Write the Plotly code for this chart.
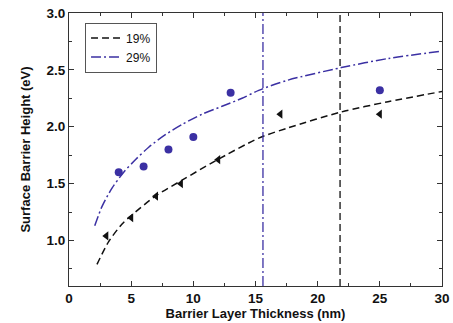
import plotly.graph_objects as go

# Measured data
x_29 = [4, 6, 8, 10, 13, 25]
y_29 = [1.60, 1.65, 1.80, 1.91, 2.30, 2.32]
x_19 = [3, 5, 7, 9, 12, 17, 25]
y_19 = [1.04, 1.20, 1.39, 1.50, 1.71, 2.11, 2.11]

# Fitted curves
fit_x_29 = [2.07, 2.66, 3.46, 4.40, 5.34, 6.41, 7.75, 9.09, 10.70, 12.31, 13.92, 15.26, 17.62, 21.91, 25.66, 30.0]
fit_y_29 = [1.13, 1.30, 1.46, 1.60, 1.71, 1.82, 1.93, 2.02, 2.11, 2.18, 2.25, 2.32, 2.41, 2.52, 2.60, 2.665]
fit_x_19 = [2.25, 3.19, 4.27, 5.02, 6.95, 9.09, 11.78, 15.26, 17.62, 21.91, 25.66, 30.0]
fit_y_19 = [0.79, 0.99, 1.145, 1.22, 1.39, 1.53, 1.70, 1.90, 1.99, 2.13, 2.22, 2.31]

# Critical thickness markers
vline_29 = 15.6
vline_19 = 21.8

labels = ["19%", "29%"]
x_range = [0, 30]
y_range = [0.6, 3.0]

BLUE = "#3b30a3"
BLACK = "#111111"
FONT = "Arial, Liberation Sans, sans-serif"

fig = go.Figure()

fig.add_trace(go.Scatter(x=fit_x_19, y=fit_y_19, mode="lines", name=labels[0],
                         line=dict(color=BLACK, width=1.5, dash="7px,4px", smoothing=0.8),
                         line_shape="spline"))
fig.add_trace(go.Scatter(x=fit_x_29, y=fit_y_29, mode="lines", name=labels[1],
                         line=dict(color=BLUE, width=1.5, dash="10px,3px,2px,3px", smoothing=0.8),
                         line_shape="spline"))
fig.add_trace(go.Scatter(x=x_19, y=y_19, mode="markers", showlegend=False,
                         marker=dict(symbol="triangle-left", size=8, color=BLACK)))
fig.add_trace(go.Scatter(x=x_29, y=y_29, mode="markers", showlegend=False,
                         marker=dict(symbol="circle", size=8, color=BLUE)))

fig.add_trace(go.Scatter(x=[vline_29, vline_29], y=y_range, mode="lines", showlegend=False,
                         line=dict(color=BLUE, width=1.3, dash="10px,3px,2px,3px")))
fig.add_trace(go.Scatter(x=[vline_19, vline_19], y=y_range, mode="lines", showlegend=False,
                         line=dict(color=BLACK, width=1.3, dash="7px,4px")))

axis_common = dict(showline=True, linecolor="#333333", linewidth=1, mirror="ticks",
                   ticks="inside", ticklen=5, tickcolor="#333333", showgrid=False,
                   zeroline=False, automargin=False,
                   tickfont=dict(family=FONT, size=13.5, color="#111111"))

fig.update_xaxes(range=x_range, dtick=5, tick0=0,
                 minor=dict(ticks="inside", dtick=2.5, ticklen=3, tickcolor="#333333"),
                 title=dict(text="<b>Barrier Layer Thickness (nm)</b>",
                            font=dict(family=FONT, size=13, color="#111111"), standoff=0),
                 tickprefix="<b>", ticksuffix="</b>", **axis_common)
fig.update_yaxes(range=y_range, dtick=0.5, tick0=0, tickformat=".1f",
                 minor=dict(ticks="inside", dtick=0.25, ticklen=3, tickcolor="#333333"),
                 title=dict(text="<b>Surface Barrier Height (eV)</b>",
                            font=dict(family=FONT, size=13, color="#111111"), standoff=12),
                 tickprefix="<b>", ticksuffix="</b>", **axis_common)

fig.update_layout(
    width=453, height=323,
    margin=dict(l=69, r=11, t=13, b=37),
    paper_bgcolor="white", plot_bgcolor="white",
    font=dict(family=FONT, size=13, color="#111111"),
    legend=dict(x=0.043, y=0.965, xanchor="left", yanchor="top",
                bgcolor="white", bordercolor="#555555", borderwidth=1,
                font=dict(family=FONT, size=12, color="#111111"),
                tracegroupgap=0, itemwidth=30),
)

fig.write_html("out.html", config={"displayModeBar": False},
               post_script="document.body.style.margin='0';document.body.style.padding='0';")
